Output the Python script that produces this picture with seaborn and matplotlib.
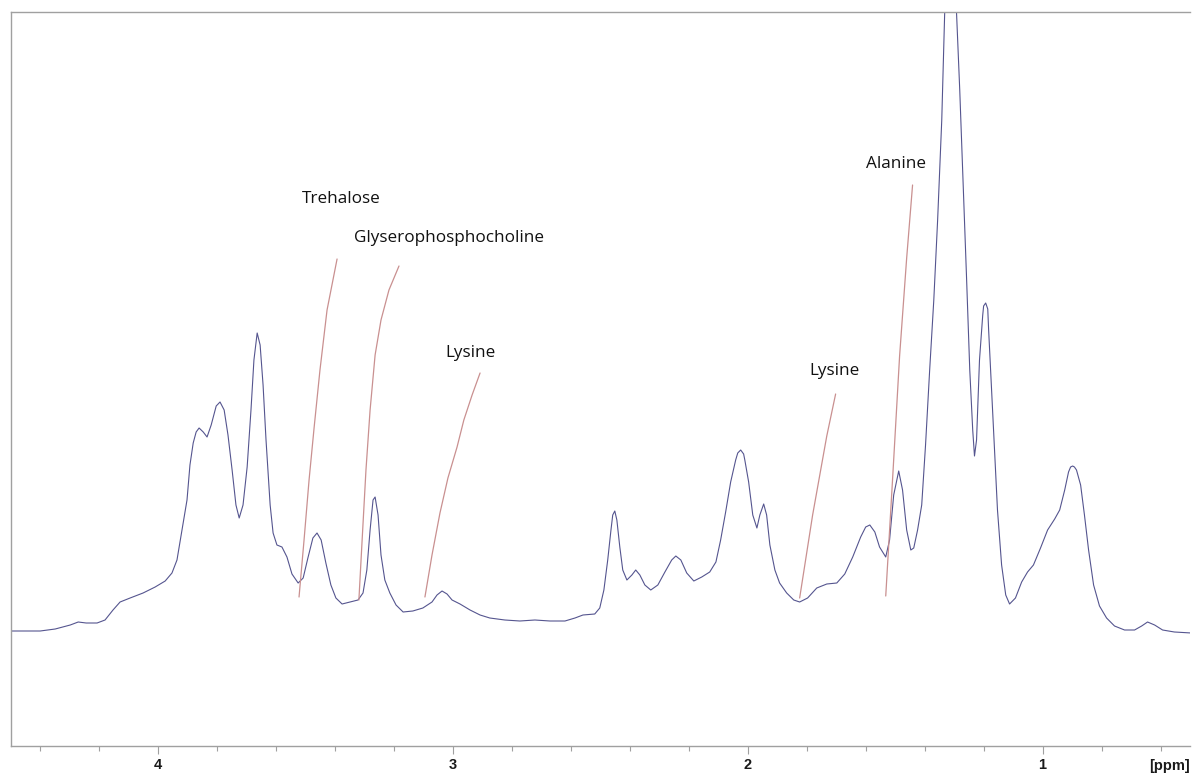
import matplotlib
matplotlib.use("Agg")
import matplotlib.pyplot as plt
import matplotlib.transforms as mtransforms
from matplotlib.ticker import MultipleLocator, FixedLocator
import seaborn as sns
import pandas as pd

# ---- spectrum trace (chemical shift in ppm, intensity in arbitrary units) ----
ppm = [4.499, 4.400, 4.349, 4.298, 4.271, 4.244, 4.207, 4.180, 4.153, 4.129,
       4.095, 4.051, 4.010, 3.976, 3.953, 3.936, 3.919, 3.902, 3.892, 3.881,
       3.871, 3.861, 3.847, 3.834, 3.820, 3.803, 3.790, 3.776, 3.763, 3.749,
       3.736, 3.725, 3.712, 3.698, 3.685, 3.675, 3.664, 3.654, 3.644, 3.634,
       3.620, 3.610, 3.597, 3.580, 3.563, 3.546, 3.525, 3.508, 3.492, 3.475,
       3.461, 3.447, 3.431, 3.414, 3.397, 3.376, 3.349, 3.322, 3.305, 3.292,
       3.281, 3.271, 3.264, 3.254, 3.244, 3.231, 3.214, 3.193, 3.169, 3.136,
       3.102, 3.071, 3.054, 3.037, 3.020, 3.003, 2.976, 2.942, 2.908, 2.875,
       2.824, 2.773, 2.722, 2.671, 2.620, 2.586, 2.559, 2.519, 2.502, 2.488,
       2.475, 2.464, 2.458, 2.451, 2.444, 2.434, 2.424, 2.410, 2.393, 2.380,
       2.366, 2.349, 2.329, 2.305, 2.281, 2.258, 2.244, 2.227, 2.207, 2.183,
       2.156, 2.129, 2.108, 2.092, 2.075, 2.058, 2.041, 2.034, 2.024, 2.014,
       2.010, 1.997, 1.983, 1.969, 1.959, 1.946, 1.936, 1.925, 1.908, 1.892,
       1.868, 1.844, 1.824, 1.797, 1.766, 1.732, 1.698, 1.671, 1.644, 1.617,
       1.600, 1.586, 1.569, 1.553, 1.532, 1.519, 1.505, 1.488, 1.475, 1.461,
       1.447, 1.437, 1.424, 1.410, 1.397, 1.383, 1.369, 1.356, 1.342, 1.332,
       1.312, 1.292, 1.281, 1.271, 1.258, 1.247, 1.237, 1.231, 1.224, 1.214,
       1.203, 1.200, 1.193, 1.186, 1.183, 1.173, 1.163, 1.153, 1.139, 1.125,
       1.112, 1.092, 1.071, 1.051, 1.031, 1.007, 0.983, 0.959, 0.942, 0.925,
       0.912, 0.905, 0.898, 0.892, 0.885, 0.871, 0.858, 0.844, 0.827, 0.807,
       0.783, 0.756, 0.722, 0.688, 0.664, 0.644, 0.620, 0.593, 0.553, 0.495]
intensity = [0, 0, 2, 6, 9, 8, 8, 11, 21, 29,
             33, 38, 44, 50, 58, 71, 101, 131, 166, 188,
             199, 203, 199, 194, 206, 225, 229, 221, 196, 161,
             126, 113, 126, 164, 221, 271, 298, 286, 246, 191,
             126, 98, 86, 84, 74, 57, 48, 53, 73, 93,
             98, 91, 68, 46, 33, 27, 29, 31, 38, 61,
             101, 131, 134, 116, 76, 51, 38, 26, 19, 20,
             23, 29, 36, 40, 37, 31, 27, 21, 16, 13,
             11, 10, 11, 10, 10, 13, 16, 17, 23, 41,
             71, 101, 116, 120, 111, 84, 61, 51, 56, 61,
             56, 46, 41, 46, 59, 71, 75, 71, 58, 50,
             54, 59, 69, 91, 119, 149, 171, 178, 181, 177,
             171, 149, 116, 103, 116, 127, 116, 86, 61, 48,
             38, 31, 29, 33, 43, 47, 48, 57, 74, 94,
             104, 106, 99, 84, 74, 91, 136, 160, 141, 101,
             81, 83, 101, 126, 186, 261, 331, 411, 511, 619,
             691, 619, 541, 461, 354, 261, 201, 175, 191, 271,
             316, 325, 328, 322, 301, 241, 181, 121, 66, 36,
             27, 33, 49, 59, 66, 83, 101, 112, 121, 141,
             159, 164, 165, 164, 161, 146, 116, 81, 46, 25,
             13, 5, 1, 1, 5, 9, 6, 1, -1, -2]

# ---- annotation leader lines (ppm, intensity) and labels ----
labels = ["Trehalose", "Glyserophosphocholine", "Lysine", "Lysine", "Alanine"]
label_ppm = [3.512, 3.336, 3.027, 1.790, 1.600]
label_int = [432, 393, 278, 260, 467]
leader_ppm = [
    [3.522, 3.505, 3.488, 3.471, 3.451, 3.427, 3.393],
    [3.319, 3.308, 3.295, 3.281, 3.264, 3.244, 3.217, 3.183],
    [3.095, 3.071, 3.044, 3.017, 2.986, 2.963, 2.935, 2.908],
    [1.824, 1.780, 1.732, 1.702],
    [1.532, 1.508, 1.485, 1.461, 1.441],
]
leader_int = [
    [34, 91, 151, 203, 261, 321, 372],
    [31, 91, 161, 221, 276, 311, 341, 365],
    [34, 76, 118, 153, 184, 211, 236, 258],
    [33, 116, 195, 237],
    [35, 156, 275, 373, 446],
]
major_ticks = [4, 3, 2, 1]
x_unit_label = "[ppm]"

sns.set_theme(style="white")
plt.rcParams["font.family"] = ["Open Sans", "DejaVu Sans"]

fig = plt.figure(figsize=(11.92, 7.75), dpi=100)
ax = fig.add_axes([10.7 / 1192, 1 - 746 / 775, (1190 - 10.7) / 1192, (746 - 12) / 775])

spec = pd.DataFrame({"ppm": ppm, "intensity": intensity})
sns.lineplot(data=spec, x="ppm", y="intensity", sort=False, estimator=None,
             color="#55558f", linewidth=0.8, ax=ax)

for xs, ys in zip(leader_ppm, leader_int):
    sns.lineplot(x=xs, y=ys, sort=False, estimator=None,
                 color="#c99090", linewidth=0.9, ax=ax)

for t, xv, yv in zip(labels, label_ppm, label_int):
    ax.text(xv, yv, t, ha="left", va="center", fontsize=12.3, color="#111111")

ax.set_xlim(4.5, 0.5)
ax.set_ylim(-115, 619)
ax.set_xlabel("")
ax.set_ylabel("")
ax.set_yticks([])
ax.xaxis.set_major_locator(FixedLocator(major_ticks))
ax.xaxis.set_minor_locator(MultipleLocator(0.2))
ax.set_xticklabels([str(v) for v in major_ticks], fontweight="bold",
                   fontsize=10.5, family=["Liberation Sans", "DejaVu Sans"], color="#1a1a1a")
ax.tick_params(axis="x", which="major", direction="out", length=5.8, width=0.8,
               color="#a0a0a0", pad=3.0, bottom=True)
ax.tick_params(axis="x", which="minor", direction="out", length=3.6, width=0.8,
               color="#a0a0a0", bottom=True)

for side in ["left", "top", "bottom"]:
    ax.spines[side].set_color("#a0a0a0")
    ax.spines[side].set_linewidth(1.0)
ax.spines["right"].set_visible(False)

trans = mtransforms.blended_transform_factory(ax.transData, ax.transAxes)
ax.text(0.569, -20 / 734, x_unit_label, transform=trans, ha="center", va="center",
        fontsize=10.5, fontweight="bold", family=["Liberation Sans", "DejaVu Sans"],
        color="#1a1a1a")

fig.savefig("out.png", dpi=100)
